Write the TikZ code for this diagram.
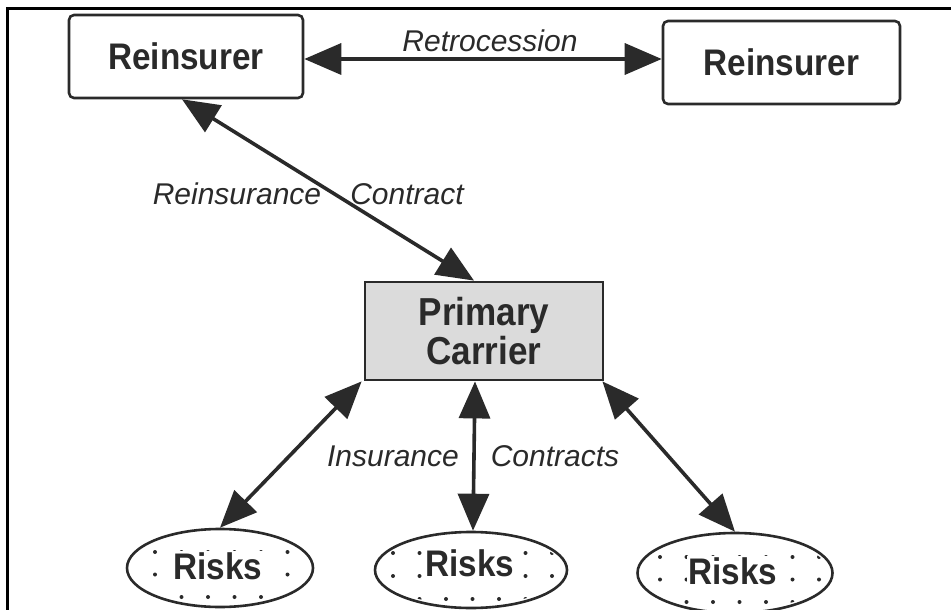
\documentclass[tikz,border=0pt]{standalone}
\usepackage{fontspec}
\setmainfont{Liberation Sans}
\newfontfamily\condfont[FakeStretch=0.9]{Liberation Sans}
\usetikzlibrary{arrows.meta,shapes.geometric,calc}
\definecolor{ink}{HTML}{2A2A2A}
\tikzset{
  boxnode/.style={draw=ink, line width=2.6pt, rounded corners=5pt, inner sep=0pt,
    font=\condfont\fontsize{37}{42}\selectfont\bfseries, text=ink},
  carrier/.style={draw=ink, line width=2.8pt, fill=gray!28, inner sep=0pt,
    font=\condfont\fontsize{39}{39}\selectfont\bfseries, text=ink, align=center},
  risknode/.style={draw=ink, ellipse, line width=2.6pt, inner sep=0pt},
  risktext/.style={fill=white, inner sep=1.5pt, font=\condfont\fontsize{37}{42}\selectfont\bfseries, text=ink},
  lbl/.style={font=\fontsize{30}{34}\selectfont\itshape, text=ink, inner sep=0pt},
  biarrow/.style={draw=ink, line width=3.6pt,
    {Triangle[length=37pt,width=31pt]}-{Triangle[length=37pt,width=31pt]}},
  dotmark/.style={fill=ink}
}
\begin{document}
\begin{tikzpicture}[x=1pt,y=-1pt]
\useasboundingbox (0,0) rectangle (951,610);
\draw[line width=3pt, black] (7,612) -- (7,9) -- (953,9);

% nodes
\node[boxnode, minimum width=234pt, minimum height=83pt] (r1) at (186,56.5) {Reinsurer};
\node[boxnode, minimum width=237pt, minimum height=83pt] (r2) at (781.5,62.5) {Reinsurer};
\node[carrier, minimum width=238pt, minimum height=98pt] (pc) at (484,331) {Primary\\Carrier};

\node[risknode, minimum width=186pt, minimum height=78pt] (k1) at (220,568) {};
\node[risknode, minimum width=192pt, minimum height=76pt] (k2) at (471,570) {};
\node[risknode, minimum width=195pt, minimum height=80pt] (k3) at (735,573) {};

% stipple dots
\begin{scope}
  \clip (k1.center) ellipse [x radius=90pt, y radius=36pt];
  \foreach \cx in {102,128.5,155,181.5,208,234.5,261,287.5,314}
    \foreach \cy in {552,574.5,597}
      \fill[dotmark] (\cx,\cy) circle [radius=2pt];
\end{scope}
\begin{scope}
  \clip (k2.center) ellipse [x radius=93pt, y radius=35pt];
  \foreach \cx in {366.5,393,419.5,446,472.5,499,525.5,552,578.5}
    \foreach \cy in {553,576,599}
      \fill[dotmark] (\cx,\cy) circle [radius=2pt];
\end{scope}
\begin{scope}
  \clip (k3.center) ellipse [x radius=94pt, y radius=37pt];
  \foreach \cx in {633.5,660,686.5,713,739.5,766,792.5,819,845.5}
    \foreach \cy in {557,579.5,602}
      \fill[dotmark] (\cx,\cy) circle [radius=2pt];
\end{scope}

\node[risktext] (k1t) at (218,566) {Risks};
\node[risktext] (k2t) at (470,563) {Risks};
\node[risktext] (k3t) at (733,571) {Risks};

% connectors
\draw[biarrow] ($(r1.east)+(0,2.5)$) -- ($(r2.west)+(0,-3.5)$);
\draw[biarrow] ($(r1.south)+(-4,0)$) -- ($(pc.north)+(-10,0)$);
\draw[biarrow] ($(pc.south west)+(-2,0)$) -- (k1.north);
\draw[biarrow] ($(pc.south)+(-9,0)$) -- ($(k2.north)+(2,0)$);
\draw[biarrow] ($(pc.south east)+(-2,0)$) -- (k3.north);

% labels
\node[lbl] (lretro) at (490,41) {Retrocession};
\node[lbl] (lreins) at (237,194) {Reinsurance};
\node[lbl] (lcontr) at (407,194) {Contract};
\node[lbl] (lins) at (393,456) {Insurance};
\node[lbl] (lcons) at (555,456) {Contracts};
\end{tikzpicture}
\end{document}
